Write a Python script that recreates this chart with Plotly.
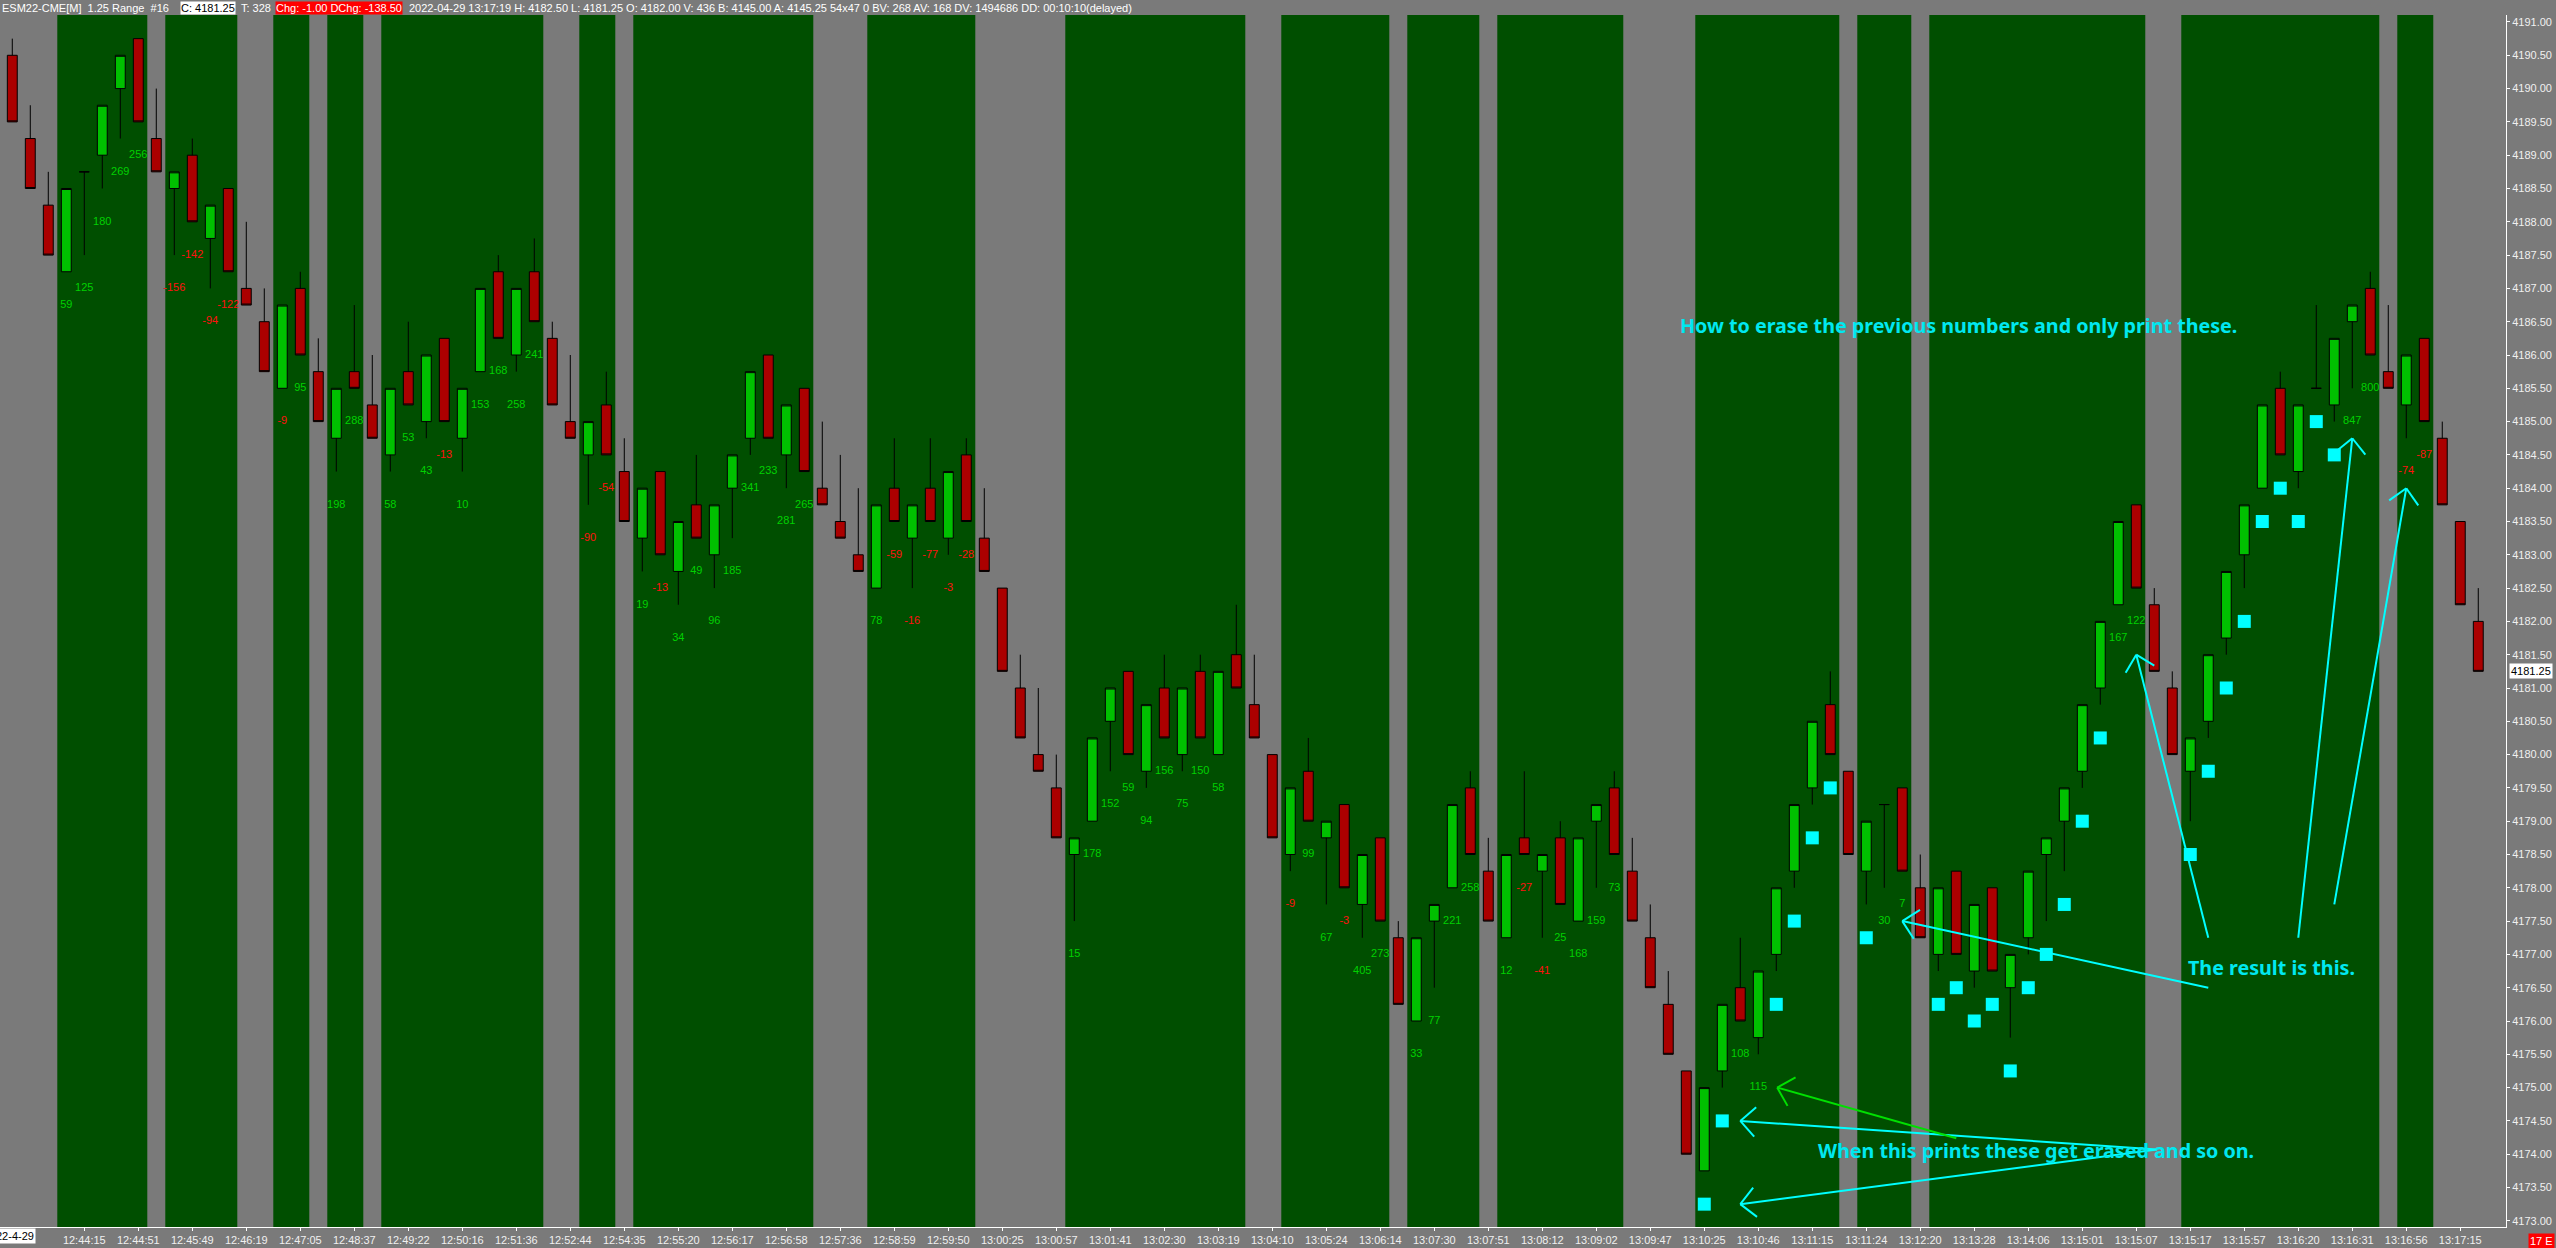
import math
import plotly.graph_objects as go

# ESM22 1.25 range bars, 2022-04-29 (one entry per bar)
opens = [4190.5, 4189.25, 4188.25, 4187.25, 4188.75, 4189.0, 4190.0, 4190.75, 4189.25, 4188.5,
         4189.0, 4187.75, 4188.5, 4187.0, 4186.5, 4185.5, 4187.0, 4185.75, 4184.75, 4185.75,
         4185.25, 4184.5, 4185.75, 4185.0, 4186.25, 4184.75, 4185.75, 4187.25, 4186.0, 4187.25,
         4186.25, 4185.0, 4184.5, 4185.25, 4184.25, 4183.25, 4184.25, 4182.75, 4183.75, 4183.0,
         4184.0, 4184.75, 4186.0, 4184.5, 4185.5, 4184.0, 4183.5, 4183.0, 4182.5, 4184.0,
         4183.25, 4184.0, 4183.25, 4184.5, 4183.25, 4182.5, 4181.0, 4180.0, 4179.5, 4178.5,
         4179.0, 4180.5, 4181.25, 4179.75, 4181.0, 4180.0, 4181.25, 4180.0, 4181.5, 4180.75,
         4180.0, 4178.5, 4179.75, 4178.75, 4179.25, 4177.75, 4178.75, 4177.25, 4176.0, 4177.5,
         4178.0, 4179.5, 4178.25, 4177.25, 4178.75, 4178.25, 4178.75, 4177.5, 4179.0, 4179.5,
         4178.25, 4177.25, 4176.25, 4175.25, 4173.75, 4175.25, 4176.5, 4175.75, 4177.0, 4178.25,
         4179.5, 4180.75, 4179.75, 4178.25, 4179.25, 4179.5, 4178.0, 4177.0, 4178.25, 4176.75,
         4178.0, 4176.5, 4177.25, 4178.5, 4179.0, 4179.75, 4181.0, 4182.25, 4183.75, 4182.25,
         4181.0, 4179.75, 4180.5, 4181.75, 4183.0, 4184.0, 4185.5, 4184.25, 4185.5, 4185.25,
         4186.5, 4187.0, 4185.75, 4185.25, 4186.25, 4184.75, 4183.5, 4182.0]
highs = [4190.75, 4189.75, 4188.75, 4188.5, 4188.75, 4189.75, 4190.5, 4190.75, 4190.0, 4188.75,
         4189.25, 4188.25, 4188.5, 4188.0, 4187.0, 4186.75, 4187.25, 4186.25, 4185.5, 4186.75,
         4186.0, 4185.5, 4186.5, 4186.0, 4186.25, 4185.5, 4187.0, 4187.5, 4187.0, 4187.75,
         4186.5, 4186.0, 4185.0, 4185.75, 4184.75, 4184.0, 4184.25, 4183.5, 4184.5, 4183.75,
         4184.5, 4185.75, 4186.0, 4185.25, 4185.5, 4185.0, 4184.5, 4184.0, 4183.75, 4184.75,
         4183.75, 4184.75, 4184.25, 4184.75, 4184.0, 4182.5, 4181.5, 4181.0, 4180.0, 4178.75,
         4180.25, 4181.0, 4181.25, 4180.75, 4181.5, 4181.0, 4181.5, 4181.25, 4182.25, 4181.5,
         4180.0, 4179.5, 4180.25, 4179.0, 4179.25, 4178.5, 4178.75, 4177.5, 4177.25, 4177.75,
         4179.25, 4179.75, 4178.75, 4178.5, 4179.75, 4178.5, 4179.0, 4178.75, 4179.25, 4179.75,
         4178.75, 4177.75, 4176.75, 4175.25, 4175.0, 4176.25, 4177.25, 4176.75, 4178.0, 4179.25,
         4180.5, 4181.25, 4179.75, 4179.0, 4179.25, 4179.5, 4178.5, 4178.0, 4178.25, 4177.75,
         4178.0, 4177.0, 4178.25, 4178.75, 4179.5, 4180.75, 4182.0, 4183.5, 4183.75, 4182.5,
         4181.25, 4180.25, 4181.5, 4182.75, 4183.75, 4185.25, 4185.75, 4185.25, 4186.75, 4186.25,
         4186.75, 4187.25, 4186.75, 4186.0, 4186.25, 4185.0, 4183.5, 4182.5]
lows = [4189.5, 4188.5, 4187.5, 4187.25, 4187.5, 4188.5, 4189.25, 4189.5, 4188.75, 4187.5,
        4188.0, 4187.0, 4187.25, 4186.75, 4185.75, 4185.5, 4186.0, 4185.0, 4184.25, 4185.5,
        4184.75, 4184.25, 4185.25, 4184.75, 4185.0, 4184.25, 4185.75, 4186.25, 4185.75, 4186.5,
        4185.25, 4184.75, 4183.75, 4184.5, 4183.5, 4182.75, 4183.0, 4182.25, 4183.25, 4182.5,
        4183.25, 4184.5, 4184.75, 4184.0, 4184.25, 4183.75, 4183.25, 4182.75, 4182.5, 4183.5,
        4182.5, 4183.5, 4183.0, 4183.5, 4182.75, 4181.25, 4180.25, 4179.75, 4178.75, 4177.5,
        4179.0, 4179.75, 4180.0, 4179.5, 4180.25, 4179.75, 4180.25, 4180.0, 4181.0, 4180.25,
        4178.75, 4178.25, 4179.0, 4177.75, 4178.0, 4177.25, 4177.5, 4176.25, 4176.0, 4176.5,
        4178.0, 4178.5, 4177.5, 4177.25, 4178.5, 4177.25, 4177.75, 4177.5, 4178.0, 4178.5,
        4177.5, 4176.5, 4175.5, 4174.0, 4173.75, 4175.0, 4176.0, 4175.5, 4176.75, 4178.0,
        4179.25, 4180.0, 4178.5, 4177.75, 4178.0, 4178.25, 4177.25, 4176.75, 4177.0, 4176.5,
        4176.75, 4175.75, 4177.0, 4177.5, 4178.25, 4179.5, 4180.75, 4182.25, 4182.5, 4181.25,
        4180.0, 4179.0, 4180.25, 4181.5, 4182.5, 4184.0, 4184.5, 4184.0, 4185.5, 4185.0,
        4185.5, 4186.0, 4185.5, 4184.75, 4185.0, 4183.75, 4182.25, 4181.25]
closes = [4189.5, 4188.5, 4187.5, 4188.5, 4188.75, 4189.75, 4190.5, 4189.5, 4188.75, 4188.75,
          4188.0, 4188.25, 4187.25, 4186.75, 4185.75, 4186.75, 4186.0, 4185.0, 4185.5, 4185.5,
          4184.75, 4185.5, 4185.25, 4186.0, 4185.0, 4185.5, 4187.0, 4186.25, 4187.0, 4186.5,
          4185.25, 4184.75, 4185.0, 4184.5, 4183.5, 4184.0, 4183.0, 4183.5, 4183.25, 4183.75,
          4184.5, 4185.75, 4184.75, 4185.25, 4184.25, 4183.75, 4183.25, 4182.75, 4183.75, 4183.5,
          4183.75, 4183.5, 4184.25, 4183.5, 4182.75, 4181.25, 4180.25, 4179.75, 4178.75, 4178.75,
          4180.25, 4181.0, 4180.0, 4180.75, 4180.25, 4181.0, 4180.25, 4181.25, 4181.0, 4180.25,
          4178.75, 4179.5, 4179.0, 4179.0, 4178.0, 4178.5, 4177.5, 4176.25, 4177.25, 4177.75,
          4179.25, 4178.5, 4177.5, 4178.5, 4178.5, 4178.5, 4177.75, 4178.75, 4179.25, 4178.5,
          4177.5, 4176.5, 4175.5, 4174.0, 4175.0, 4176.25, 4176.0, 4176.75, 4178.0, 4179.25,
          4180.5, 4180.0, 4178.5, 4179.0, 4179.25, 4178.25, 4177.25, 4178.0, 4177.0, 4177.75,
          4176.75, 4177.0, 4178.25, 4178.75, 4179.5, 4180.75, 4182.0, 4183.5, 4182.5, 4181.25,
          4180.0, 4180.25, 4181.5, 4182.75, 4183.75, 4185.25, 4184.5, 4185.25, 4185.5, 4186.25,
          4186.75, 4186.0, 4185.5, 4186.0, 4185.0, 4183.75, 4182.25, 4181.25]

# runs of bars drawn on the green background (first bar, last bar)
green_runs = [(3, 7), (9, 12), (15, 16), (18, 19), (21, 29), (32, 33), (35, 44), (48, 53),
              (59, 68), (71, 76), (78, 81), (83, 89), (94, 101), (103, 105), (107, 118),
              (121, 131), (133, 134)]

# numbers printed under the bars
label_bars = [3, 4, 5, 6, 7, 9, 10, 11, 12, 15, 16, 18, 19, 21, 22, 23, 24, 25, 26, 27, 28, 29,
              32, 33, 35, 36, 37, 38, 39, 40, 41, 42, 43, 44, 48, 49, 50, 51, 52, 53, 59, 60,
              61, 62, 63, 64, 65, 66, 67, 71, 72, 73, 74, 75, 76, 78, 79, 80, 81, 83, 84, 85,
              86, 87, 88, 89, 96, 97, 104, 105, 117, 118, 130, 131, 133, 134]
label_values = [59, 125, 180, 269, 256, -156, -142, -94, -122, -9, 95, 198, 288, 58, 53, 43,
                -13, 10, 153, 168, 258, 241, -90, -54, 19, -13, 34, 49, 96, 185, 341, 233, 281,
                265, 78, -59, -16, -77, -3, -28, 15, 178, 152, 59, 94, 156, 75, 150, 58, -9, 99,
                67, -3, 405, 273, 33, 77, 221, 258, 12, -27, -41, 25, 168, 159, 73, 108, 115,
                30, 7, 167, 122, 847, 800, -74, -87]

# bars whose number is covered by a cyan block
block_bars = [94, 95, 98, 99, 100, 101, 103, 107, 108, 109, 110, 111, 112, 113, 114, 115, 116,
              121, 122, 123, 124, 125, 126, 127, 128, 129]

tick_bars = list(range(4, 137, 3))
tick_times = ["12:44:15", "12:44:51", "12:45:49", "12:46:19", "12:47:05", "12:48:37", "12:49:22",
              "12:50:16", "12:51:36", "12:52:44", "12:54:35", "12:55:20", "12:56:17", "12:56:58",
              "12:57:36", "12:58:59", "12:59:50", "13:00:25", "13:00:57", "13:01:41", "13:02:30",
              "13:03:19", "13:04:10", "13:05:24", "13:06:14", "13:07:30", "13:07:51", "13:08:12",
              "13:09:02", "13:09:47", "13:10:25", "13:10:46", "13:11:15", "13:11:24", "13:12:20",
              "13:13:28", "13:14:06", "13:15:01", "13:15:07", "13:15:17", "13:15:57", "13:16:20",
              "13:16:31", "13:16:56", "13:17:15"]

# hand drawn notes and arrows (bar index, price)
note_texts = ["How to erase the previous numbers and only print these.",
              "The result is this.",
              "When this prints these get erased and so on."]
note_x = [108.1, 125.5, 112.45]
note_y = [4186.44, 4176.8, 4174.06]

arrow_tip_x = [105.0, 118.0, 130.0, 133.0, 96.0, 96.0, 98.05]
arrow_tip_y = [4177.5, 4181.5, 4184.75, 4184.0, 4174.5, 4173.25, 4175.0]
arrow_tail_x = [122.0, 122.0, 127.0, 129.0, 119.15, 119.15, 108.0]
arrow_tail_y = [4176.5, 4177.25, 4177.25, 4177.75, 4174.07, 4174.07, 4174.24]
arrow_colors = ["#00ffff"] * 6 + ["#00e000"]

small_font = "Liberation Sans, Arial, sans-serif"
GRAY = "#7a7a7a"
GREEN_BG = "#004f00"

W, H = 2556, 1248
M = dict(l=0, r=50, t=15, b=21)
x_range = [-0.683, 138.54]
y_range = [4172.907, 4191.105]
xs = (W - M["l"] - M["r"]) / (x_range[1] - x_range[0])
ys = (H - M["t"] - M["b"]) / (y_range[1] - y_range[0])

fig = go.Figure()

fig.add_trace(go.Candlestick(
    x=list(range(len(opens))), open=opens, high=highs, low=lows, close=closes,
    increasing=dict(fillcolor="#00c000", line=dict(color="black", width=1)),
    decreasing=dict(fillcolor="#ab0000", line=dict(color="black", width=1)),
    whiskerwidth=0, showlegend=False, hoverinfo="skip",
))

# delta numbers, half a point under each bar's low
fig.add_trace(go.Scatter(
    x=label_bars,
    y=[lows[b] - 0.5 for b in label_bars],
    mode="text",
    text=[str(v) for v in label_values],
    textfont=dict(family=small_font, size=11,
                  color=["#ff1010" if v < 0 else "#00d000" for v in label_values]),
    showlegend=False, hoverinfo="skip",
))

fig.add_trace(go.Scatter(
    x=block_bars,
    y=[lows[b] - 0.5 for b in block_bars],
    mode="markers",
    marker=dict(symbol="square", size=13, color="#00ffff", line=dict(width=0)),
    showlegend=False, hoverinfo="skip",
))

shapes = []
for a, b in green_runs:
    shapes.append(dict(type="rect", xref="x", yref="paper", x0=a - 0.5, x1=b + 0.5, y0=0, y1=1,
                       fillcolor=GREEN_BG, line=dict(width=0), layer="below"))

# arrows: shaft plus an open "<" head
for tx, ty, ax, ay, col in zip(arrow_tip_x, arrow_tip_y, arrow_tail_x, arrow_tail_y, arrow_colors):
    shapes.append(dict(type="line", xref="x", yref="y", x0=ax, y0=ay, x1=tx, y1=ty,
                       line=dict(color=col, width=2)))
    ang = math.atan2(-(ay - ty) * ys, (ax - tx) * xs)
    for d in (-0.78, 0.78):
        ox = 21 * math.cos(ang + d)
        oy = 21 * math.sin(ang + d)
        shapes.append(dict(type="line", xref="x", yref="y", x0=tx, y0=ty,
                           x1=tx + ox / xs, y1=ty - oy / ys,
                           line=dict(color=col, width=2)))

annotations = []
for t, x, y in zip(note_texts, note_x, note_y):
    annotations.append(dict(x=x, y=y, xref="x", yref="y", text=t, showarrow=False,
                            font=dict(family="Noto Sans, DejaVu Sans, sans-serif", size=19.7,
                                      color="#00e8f0", weight="bold")))

# status line across the top
pw = W - M["l"] - M["r"]
ph = H - M["t"] - M["b"]
hy = 1 + 7.5 / ph
header = [
    ("ESM22-CME[M]\u00a0\u00a01.25 Range\u00a0\u00a0#16", 1, None, "#ffffff"),
    ("C: 4181.25", 180, "#ffffff", "#000000"),
    ("T: 328", 240, None, "#ffffff"),
    ("Chg: -1.00 DChg: -138.50", 275, "#ff0000", "#ffffff"),
    ("2022-04-29 13:17:19 H: 4182.50 L: 4181.25 O: 4182.00 V: 436 B: 4145.00 A: 4145.25 "
     "54x47 0 BV: 268 AV: 168 DV: 1494686 DD: 00:10:10(delayed)", 408, None, "#ffffff"),
]
for t, px, bg, fg in header:
    annotations.append(dict(x=px / pw, y=hy, xref="paper", yref="paper", text=t,
                            showarrow=False, xanchor="left", yanchor="middle",
                            bgcolor=bg, borderpad=0,
                            font=dict(family=small_font, size=11, color=fg)))

# date box at the left end of the time axis
annotations.append(dict(x=36 / pw, y=-1.5 / ph, xref="paper", yref="paper", text="22-4-29",
                        showarrow=False, xanchor="right", yanchor="top", bgcolor="#ffffff",
                        borderpad=1, font=dict(family=small_font, size=11, color="#000000")))
# last price box
annotations.append(dict(x=1, y=closes[-1], xref="paper", yref="y", text="4181.25",
                        showarrow=False, xanchor="left", yanchor="middle", xshift=3,
                        bgcolor="#ffffff", borderpad=1,
                        font=dict(family=small_font, size=11, color="#000000")))
annotations.append(dict(x=1, y=0, xref="paper", yref="paper", text="17 E", showarrow=False,
                        xanchor="left", yanchor="top", xshift=22, yshift=-6,
                        bgcolor="#ff0000", borderpad=1,
                        font=dict(family=small_font, size=11, color="#ffffff")))

fig.update_layout(
    width=W, height=H, margin=M,
    paper_bgcolor=GRAY, plot_bgcolor=GRAY,
    boxgap=0.45, boxgroupgap=0,
    shapes=shapes, annotations=annotations,
    showlegend=False,
    xaxis=dict(range=x_range, rangeslider=dict(visible=False), showgrid=False, zeroline=False,
               tickmode="array", tickvals=tick_bars, ticktext=tick_times, tickangle=0,
               ticks="outside", ticklen=3, tickcolor="#ffffff",
               showline=True, linecolor="#ffffff", linewidth=1,
               tickfont=dict(family=small_font, size=11, color="#f0f0f0")),
    yaxis=dict(range=y_range, side="right", showgrid=False, zeroline=False,
               tick0=4173, dtick=0.5, tickformat=".2f",
               ticks="outside", ticklen=3, tickcolor="#ffffff",
               showline=True, linecolor="#ffffff", linewidth=1,
               tickfont=dict(family=small_font, size=11, color="#f0f0f0")),
)

# page has the default 8px body margin; drop it so the figure fills the window
fig.write_html("out.html", config={"displayModeBar": False},
               post_script="document.body.style.margin='0px';")
